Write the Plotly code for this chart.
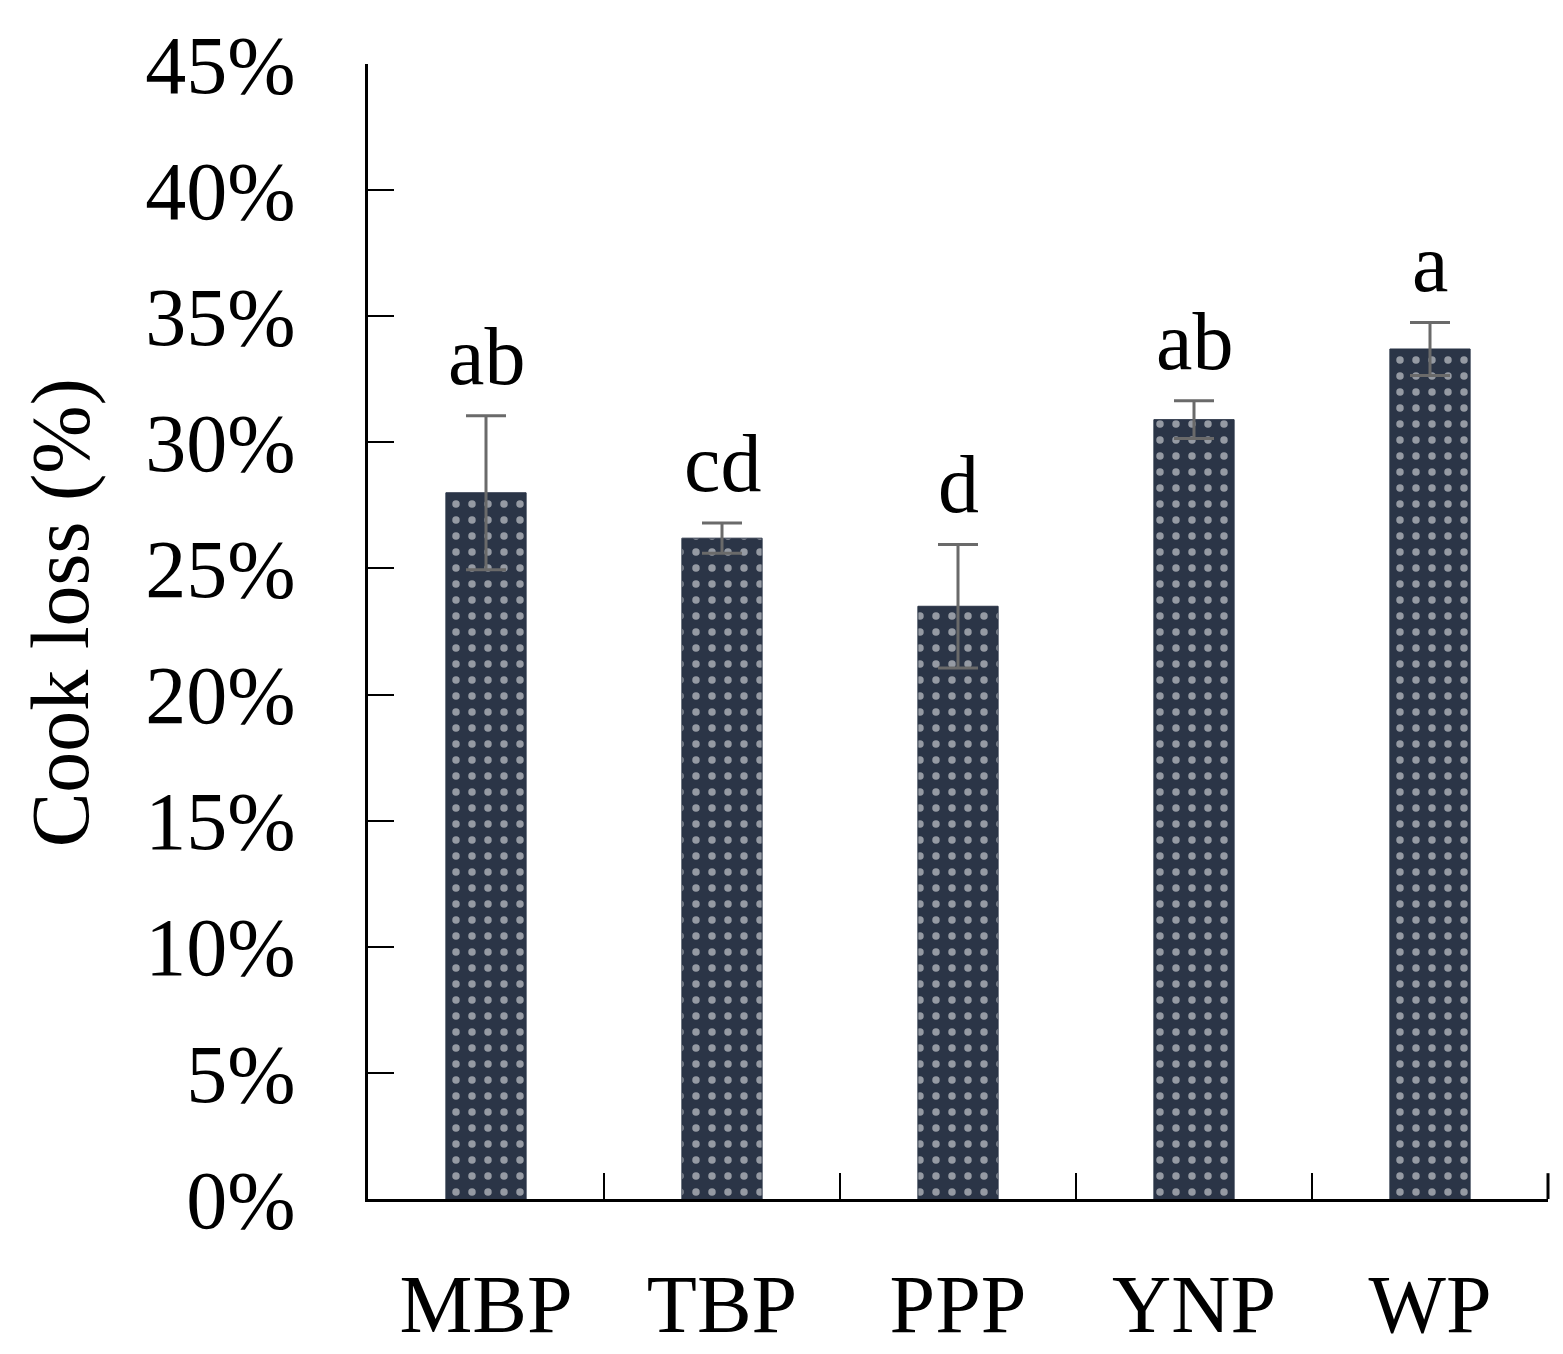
import plotly.graph_objects as go

categories = ["MBP", "TBP", "PPP", "YNP", "WP"]
cook_loss = [28.0, 26.2, 23.5, 30.9, 33.7]
errors = [3.05, 0.6, 2.45, 0.75, 1.05]
letters = ["ab", "cd", "d", "ab", "a"]
y_ticks = [0, 5, 10, 15, 20, 25, 30, 35, 40, 45]
y_tick_labels = [f"{v}%" for v in y_ticks]

FONT = "Liberation Serif, Times New Roman, serif"
FS = 82

fig = go.Figure()
fig.add_trace(go.Bar(
    x=categories,
    y=cook_loss,
    width=0.34,
    marker=dict(
        color="#2b3547",
        line=dict(color="#2b3547", width=1),
        pattern=dict(shape=".", fgcolor="#ffffff", bgcolor="#2b3547", size=16, solidity=0.17),
    ),
    error_y=dict(type="data", array=errors, visible=True, color="#6a6a6a", thickness=3, width=20),
    showlegend=False,
))

for c, v, e, t in zip(categories, cook_loss, errors, letters):
    fig.add_annotation(x=c, y=v + e, text=t, showarrow=False, yanchor="bottom", yshift=12,
                       font=dict(family=FONT, size=FS, color="black"))

fig.add_annotation(xref="paper", yref="paper", x=-0.261, y=0.516, xanchor="center", yanchor="middle",
                   text="Cook loss (%)", textangle=-90, showarrow=False,
                   font=dict(family=FONT, size=FS, color="black"))

# closing tick at the right end of the category axis
fig.add_shape(type="line", xref="paper", yref="paper", x0=1, x1=1, y0=0, y1=26 / 1143,
              line=dict(color="black", width=3))

fig.update_layout(
    width=1563, height=1354,
    margin=dict(l=360, r=23, t=49, b=162),
    plot_bgcolor="white", paper_bgcolor="white",
    xaxis=dict(
        showline=True, linecolor="black", linewidth=3,
        ticks="inside", tickson="boundaries", ticklen=26, tickwidth=2, tickcolor="black",
        tickfont=dict(family=FONT, size=FS, color="black"),
        ticklabelstandoff=32,
        showgrid=False, zeroline=False,
        range=[-0.5, 4.5],
    ),
    yaxis=dict(
        range=[0, 45],
        tickvals=y_ticks, ticktext=y_tick_labels,
        showline=True, linecolor="black", linewidth=3,
        ticks="inside", ticklen=26, tickwidth=2, tickcolor="black",
        tickfont=dict(family=FONT, size=FS, color="black"),
        ticklabelstandoff=53,
        showgrid=False, zeroline=False,
    ),
)

fig.write_html("out.html")
